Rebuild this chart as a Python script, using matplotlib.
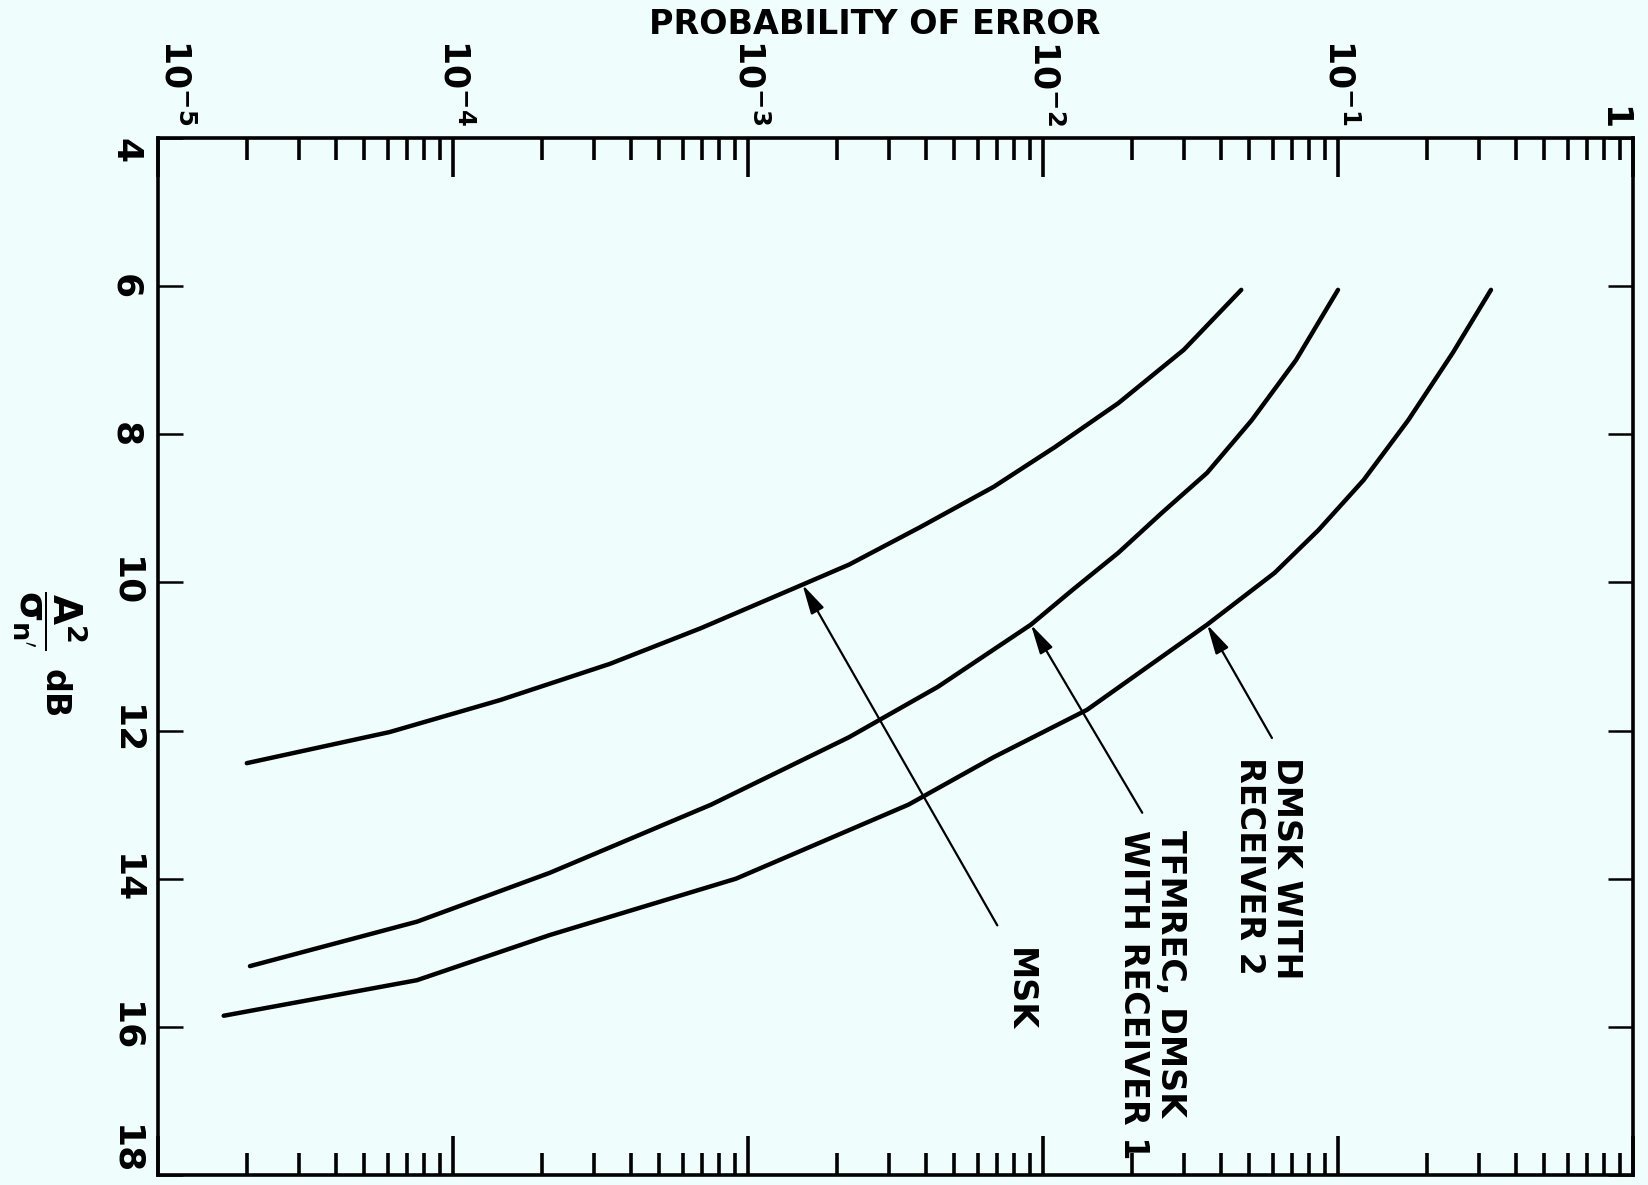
import numpy as np
import matplotlib
matplotlib.use("Agg")
import matplotlib.pyplot as plt
import matplotlib.transforms as mtransforms

# lecturas de la figura: SNR en dB y probabilidad de error
msk_db = [6.05, 6.86, 7.58, 8.17, 8.71, 9.25, 9.76, 10.03, 10.62, 11.10, 11.59, 12.02, 12.44]
msk_pe = [4.7e-2, 3.0e-2, 1.8e-2, 1.1e-2, 6.8e-3, 3.85e-3, 2.2e-3, 1.53e-3, 6.9e-4, 3.4e-4, 1.44e-4, 6.1e-5, 2.0e-5]

tfm_db = [6.05, 7.00, 7.81, 8.52, 9.06, 9.60, 10.10, 10.57, 11.41, 12.09, 13.0, 13.92, 14.58, 15.18]
tfm_pe = [1.0e-1, 7.2e-2, 5.1e-2, 3.6e-2, 2.53e-2, 1.8e-2, 1.26e-2, 9.1e-3, 4.4e-3, 2.2e-3, 7.5e-4, 2.13e-4, 7.55e-5, 2.05e-5]

dmsk_db = [6.05, 6.90, 7.81, 8.62, 9.29, 9.87, 10.57, 11.72, 12.36, 13.0, 14.0, 14.76, 15.37, 15.85]
dmsk_pe = [0.33, 0.245, 0.173, 0.122, 0.086, 0.061, 0.036, 0.0141, 6.8e-3, 3.5e-3, 9.1e-4, 2.13e-4, 7.55e-5, 1.67e-5]

xticks = [1e-5, 1e-4, 1e-3, 1e-2, 1e-1, 1]
xticklabels = ['$10^{-5}$', '$10^{-4}$', '$10^{-3}$', '$10^{-2}$', '$10^{-1}$', '$1$']
yticks = [4, 6, 8, 10, 12, 14, 16, 18]

# etiquetas con flecha: texto, punta (pe, dB), cola (pe, dB), posicion del texto
labels = ['MSK', 'TFMREC, DMSK\nWITH RECEIVER 1', 'DMSK WITH\nRECEIVER 2']
tips = [(1.53e-3, 10.03), (9.1e-3, 10.57), (0.036, 10.57)]
tails = [(7.0e-3, 14.63), (0.0217, 13.11), (0.0597, 12.10)]
text_pos = [(8.3e-3, 14.94), (0.0234, 13.34), (0.058, 12.36)]

plt.rcParams['mathtext.fontset'] = 'dejavusans'
plt.rcParams['mathtext.default'] = 'bf'

bg = '#effdfd'
fig = plt.figure(figsize=(16.48, 11.85), dpi=100, facecolor=bg)
ax = fig.add_axes([158/1648, 1 - 1175/1185, (1633-158)/1648, (1175-138)/1185])
ax.set_facecolor(bg)

for db, pe in [(msk_db, msk_pe), (tfm_db, tfm_pe), (dmsk_db, dmsk_pe)]:
    ax.plot(pe, db, color='black', lw=3.2, solid_capstyle='round', solid_joinstyle='round')

for txt, tip, tail, pos in zip(labels, tips, tails, text_pos):
    ax.annotate('', xy=tip, xytext=tail,
                arrowprops=dict(arrowstyle='-|>,head_length=0.9,head_width=0.22',
                                color='black', lw=1.6, shrinkA=0, shrinkB=0, mutation_scale=20))
    ax.text(pos[0], pos[1], txt, rotation=-90, ha='center', va='top',
            multialignment='left', fontsize=24, fontweight='bold', linespacing=1.15)

ax.set_xscale('log')
ax.set_xlim(1e-5, 1)
ax.set_ylim(18, 4)

ax.set_xticks(xticks)
ax.set_xticklabels(xticklabels)
ax.set_yticks(yticks)

ax.tick_params(axis='x', which='both', direction='in', top=True, bottom=True,
               labeltop=True, labelbottom=False, labelsize=25, pad=9, labelrotation=-90)
ax.tick_params(axis='x', which='major', length=28, width=2.6)
ax.tick_params(axis='x', which='minor', length=16, width=2.6)
ax.tick_params(axis='y', which='major', direction='in', left=True, right=True,
               length=18, width=1.8, labelsize=26, pad=11, labelrotation=-90)
ax.tick_params(axis='y', which='minor', left=False, right=False)

for s in ax.spines.values():
    s.set_linewidth(2.6)

# ajuste de las etiquetas giradas
for i, lab in enumerate(ax.get_xticklabels()):
    if i == len(xticks) - 1:
        lab.set_ha('right')
        dx = 1
    else:
        lab.set_ha('left')
        dx = 0 if i == 0 else -12
    lab.set_va('bottom')
    lab.set_transform(lab.get_transform() + mtransforms.ScaledTranslation(dx/72, 0, fig.dpi_scale_trans))

for v, lab in zip(yticks, ax.get_yticklabels()):
    lab.set_fontweight('bold')
    if v == yticks[0]:
        lab.set_va('top')
    elif v == yticks[-1]:
        lab.set_va('bottom')
    else:
        lab.set_va('center')

fig.text(875/1648, 1 - 24/1185, 'PROBABILITY OF ERROR', ha='center', va='center',
         fontsize=24, fontweight='bold')
fig.text(50/1648, 1 - 620/1185, r"$\dfrac{A^2}{\sigma_{n^{\prime}}}$", rotation=-90,
         ha='center', va='center', fontsize=28)
fig.text(54/1648, 1 - 694/1185, 'dB', rotation=-90,
         ha='center', va='center', fontsize=24, fontweight='bold')

fig.savefig('out.png', dpi=100, facecolor=bg)
